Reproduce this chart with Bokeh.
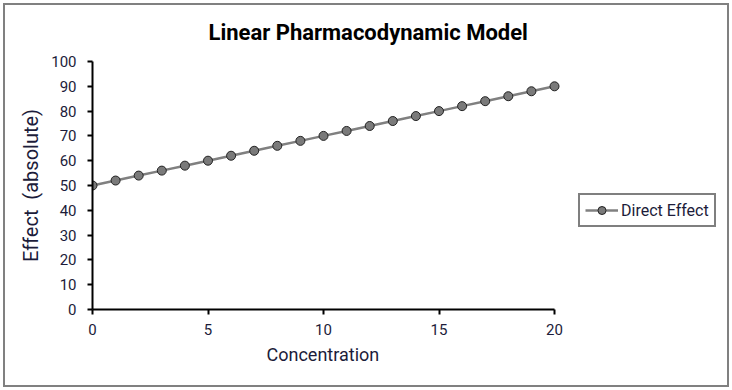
from bokeh.plotting import figure
from bokeh.models import Range1d, Legend, LegendItem, FixedTicker, Title
from bokeh.embed import file_html
from bokeh.resources import INLINE

concentration = [0, 1, 2, 3, 4, 5, 6, 7, 8, 9, 10, 11, 12, 13, 14, 15, 16, 17, 18, 19, 20]
direct_effect = [50, 52, 54, 56, 58, 60, 62, 64, 66, 68, 70, 72, 74, 76, 78, 80, 82, 84, 86, 88, 90]
x_ticks = [0, 5, 10, 15, 20]
y_ticks = [0, 10, 20, 30, 40, 50, 60, 70, 80, 90, 100]

FONT = "Roboto"
TXT = "#1c1c3a"

# layout (pixels)
W, H = 732, 390
ML, MR, MT, MB = 92, 8, 61, 81
AXIS_PX = 462                      # pixel length of the 0..20 data span
frame_w = W - ML - MR
x_end = x_ticks[-1] * frame_w / AXIS_PX

p = figure(width=W, height=H, output_backend="svg", toolbar_location=None,
           x_range=Range1d(x_ticks[0], x_end), y_range=Range1d(y_ticks[0], y_ticks[-1]),
           min_border_left=ML, min_border_right=MR, min_border_top=MT, min_border_bottom=MB)
# chart-area border drawn behind a transparent canvas
p.background_fill_color = None
p.border_fill_color = None
p.styles = {"background-color": "white",
            "box-shadow": "inset 0 0 0 3px white, inset 0 0 0 5px #808080"}
p.outline_line_color = None
p.xgrid.visible = False
p.ygrid.visible = False

p.title = Title(text="Linear Pharmacodynamic Model", align="left", offset=116, standoff=34,
                text_font=FONT, text_font_size="22px", text_font_style="bold",
                text_color="#000000")

for ax in (p.xaxis[0], p.yaxis[0]):
    ax.axis_line_color = "black"
    ax.axis_line_width = 2
    ax.major_tick_line_color = "black"
    ax.major_tick_line_width = 2
    ax.major_tick_in = 0
    ax.major_tick_out = 5
    ax.minor_tick_line_color = None
    ax.major_label_text_font = FONT
    ax.major_label_text_font_size = "15px"
    ax.major_label_text_color = TXT
    ax.axis_label_text_font = FONT
    ax.axis_label_text_font_size = "20px"
    ax.axis_label_text_font_style = "normal"
    ax.axis_label_text_color = TXT

p.xaxis.bounds = (x_ticks[0], x_ticks[-1])
p.xaxis.ticker = FixedTicker(ticks=x_ticks)
p.yaxis.ticker = FixedTicker(ticks=y_ticks)
p.yaxis.axis_label = "Effect\u00a0 (absolute)"
p.xaxis.major_label_standoff = 9
p.yaxis.major_label_standoff = 11
p.yaxis.axis_label_standoff = 5

x_title = Title(text="Concentration", align="left", offset=174, standoff=12,
                vertical_align="top",
                text_font=FONT, text_font_size="18px", text_font_style="normal",
                text_color=TXT)
p.add_layout(x_title, "below")

ln = p.line(concentration, direct_effect, line_color="#808080", line_width=2.5)
sc = p.scatter(concentration, direct_effect, marker="circle", size=9,
               fill_color="#7a7a7a", line_color="#222222", line_width=1)

legend = Legend(items=[LegendItem(label="Direct Effect", renderers=[ln, sc])],
                location=(486, 82), orientation="vertical",
                border_line_color="black", border_line_width=2,
                background_fill_color="white", background_fill_alpha=1,
                label_text_font=FONT, label_text_font_size="16px", label_text_color=TXT,
                glyph_width=33, glyph_height=20, label_height=20,
                padding=5, margin=0, spacing=0, label_standoff=3)
p.add_layout(legend)

open("out.html", "w").write(file_html(p, INLINE))
